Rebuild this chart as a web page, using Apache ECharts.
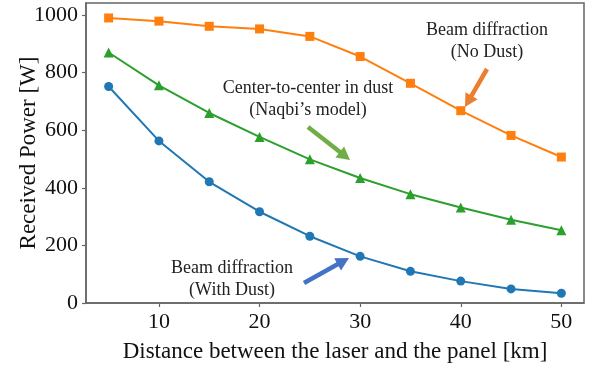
<!DOCTYPE html>
<html>
<head>
<meta charset="utf-8">
<script src="https://cdn.jsdelivr.net/npm/echarts@6/dist/echarts.min.js"></script>
<style>
  html, body { margin: 0; padding: 0; background: #fff; }
  #chart { width: 595px; height: 368px; }
</style>
</head>
<body>
<div id="chart"></div>
<script>
// distances [km]
const distances = [5, 10, 15, 20, 25, 30, 35, 40, 45, 50];
// received power [W]
const noDust = [990, 979, 961, 952, 926, 856, 763, 668, 582, 507];
const naqbiModel = [870, 756, 660, 577, 499, 434, 378, 332, 289, 253];
const withDust = [752, 563, 421, 317, 232, 162, 110, 76, 49, 34];
const xTicks = [10, 20, 30, 40, 50];
const yTicks = [0, 200, 400, 600, 800, 1000];

const serif = "Liberation Serif";

function pairs(ys) {
  return distances.map((x, i) => [x, ys[i]]);
}

// arrow drawn as a thick shaft plus a triangle head
function arrow(x1, y1, x2, y2, color) {
  const dx = x2 - x1, dy = y2 - y1;
  const len = Math.sqrt(dx * dx + dy * dy);
  const ux = dx / len, uy = dy / len;
  const headLen = 13, headW = 7;
  const bx = x2 - ux * headLen, by = y2 - uy * headLen;
  return {
    type: "group",
    children: [
      {
        type: "line",
        shape: { x1: x1, y1: y1, x2: bx + ux, y2: by + uy },
        style: { stroke: color, lineWidth: 4.5 }
      },
      {
        type: "polygon",
        shape: {
          points: [
            [x2, y2],
            [bx - uy * headW, by + ux * headW],
            [bx + uy * headW, by - ux * headW]
          ]
        },
        style: { fill: color }
      }
    ]
  };
}

function label(x, y, text) {
  return {
    type: "text",
    x: x,
    y: y,
    style: {
      text: text,
      font: "18px '" + serif + "'",
      fill: "#222",
      align: "center",
      verticalAlign: "middle",
      lineHeight: 22
    }
  };
}

let chart = echarts.init(document.getElementById("chart"));
chart.setOption({
  animation: false,
  grid: {
    left: 86,
    top: 3,
    right: 11,
    bottom: 65,
    containLabel: false,
    outerBoundsMode: "none",
    show: true,
    borderColor: "#666",
    borderWidth: 1.5
  },
  xAxis: {
    type: "value",
    min: 2.75,
    max: 52.25,
    name: "Distance between the laser and the panel [km]",
    nameLocation: "middle",
    nameGap: 37,
    nameMoveOverlap: false,
    nameTextStyle: { fontFamily: serif, fontSize: 23, color: "#111" },
    axisLine: { lineStyle: { color: "#666", width: 1.5 } },
    axisTick: { customValues: xTicks, length: 4, lineStyle: { color: "#666", width: 1.2 } },
    axisLabel: {
      customValues: xTicks,
      fontFamily: serif,
      fontSize: 22,
      color: "#111",
      margin: 8,
      formatter: v => String(v)
    },
    splitLine: { show: false }
  },
  yAxis: {
    type: "value",
    min: 0,
    max: 1042,
    name: "Received Power [W]",
    nameLocation: "middle",
    nameGap: 46,
    nameMoveOverlap: false,
    nameTextStyle: { fontFamily: serif, fontSize: 23, color: "#111" },
    axisLine: { show: true, lineStyle: { color: "#666", width: 1.5 } },
    axisTick: { show: true, customValues: yTicks, length: 4, lineStyle: { color: "#666", width: 1.2 } },
    axisLabel: {
      customValues: yTicks,
      fontFamily: serif,
      fontSize: 22,
      color: "#111",
      margin: 8,
      formatter: v => String(v)
    },
    splitLine: { show: false }
  },
  series: [
    {
      name: "Beam diffraction (With Dust)",
      type: "line",
      data: pairs(withDust),
      symbol: "circle",
      symbolSize: 9,
      lineStyle: { color: "#1f77b4", width: 2 },
      itemStyle: { color: "#1f77b4" }
    },
    {
      name: "Beam diffraction (No Dust)",
      type: "line",
      data: pairs(noDust),
      symbol: "rect",
      symbolSize: 9,
      lineStyle: { color: "#ff7f0e", width: 2 },
      itemStyle: { color: "#ff7f0e" }
    },
    {
      name: "Center-to-center in dust (Naqbi's model)",
      type: "line",
      data: pairs(naqbiModel),
      symbol: "triangle",
      symbolSize: 10,
      lineStyle: { color: "#2ca02c", width: 2 },
      itemStyle: { color: "#2ca02c" }
    }
  ],
  graphic: [
    label(487, 41, "Beam diffraction\n(No Dust)"),
    label(308, 99, "Center-to-center in dust\n(Naqbi\u2019s model)"),
    label(232, 279, "Beam diffraction\n(With Dust)"),
    arrow(487, 69, 465, 107, "#ED7D31"),
    arrow(308, 127, 350, 160, "#70AD47"),
    arrow(304, 283, 349, 258, "#4472C4")
  ]
});
</script>
</body>
</html>
